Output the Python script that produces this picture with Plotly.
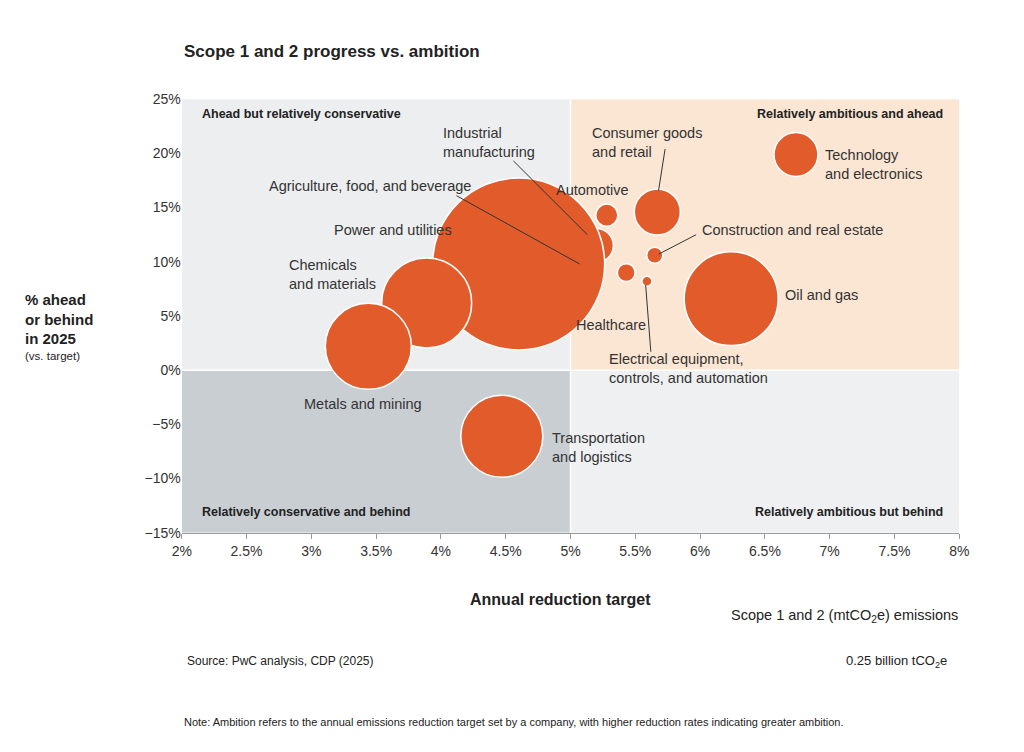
import plotly.graph_objects as go

sectors = ["Technology and electronics", "Consumer goods and retail", "Automotive",
           "Industrial manufacturing", "Agriculture, food, and beverage",
           "Construction and real estate", "Healthcare",
           "Electrical equipment, controls, and automation", "Oil and gas",
           "Power and utilities", "Chemicals and materials", "Metals and mining",
           "Transportation and logistics"]
target = [6.74, 5.67, 5.28, 5.20, 5.11, 5.65, 5.43, 5.59, 6.24, 4.60, 3.89, 3.44, 4.47]
ahead = [19.9, 14.6, 14.3, 11.5, 9.6, 10.6, 9.0, 8.2, 6.6, 9.8, 6.2, 2.2, -6.1]
emissions = [134, 147, 34, 80, 80, 18, 22, 7, 613, 2054, 562, 514, 467]  # mtCO2e

# label positions (x, y, text)
labels = [
    (6.95, 19.0, "Technology<br>and electronics"),
    (5.15, 21.0, "Consumer goods<br>and retail"),
    (4.87, 16.6, "Automotive"),
    (4.00, 21.0, "Industrial<br>manufacturing"),
    (2.66, 17.0, "Agriculture, food, and beverage"),
    (6.00, 12.9, "Construction and real estate"),
    (5.03, 4.2, "Healthcare"),
    (5.28, 0.2, "Electrical equipment,<br>controls, and automation"),
    (6.64, 6.9, "Oil and gas"),
    (3.16, 12.9, "Power and utilities"),
    (2.81, 8.85, "Chemicals<br>and materials"),
    (2.93, -3.1, "Metals and mining"),
    (4.84, -7.1, "Transportation<br>and logistics"),
]
leaders = [
    (4.56, 19.3, 5.13, 12.5),
    (4.12, 16.1, 5.07, 9.8),
    (5.73, 20.4, 5.68, 16.6),
    (5.97, 12.5, 5.68, 10.7),
    (5.62, 1.7, 5.58, 7.85),
]
legend_value = 250
legend_pos = (6.83, -26.9)  # in data units, below the plot

ORANGE = "#e15b2b"
FONT = "Liberation Sans"
sizeref = 2 * max(emissions) / (172 ** 2)
DX, DY = -15, -12  # page offset compensation

fig = go.Figure()
fig.add_trace(go.Scatter(
    x=target, y=ahead, mode="markers", text=sectors,
    marker=dict(size=emissions, sizemode="area", sizeref=sizeref, color=ORANGE,
                opacity=1, line=dict(color="white", width=1.5)),
    showlegend=False, hoverinfo="text"))
fig.add_trace(go.Scatter(
    x=[legend_pos[0]], y=[legend_pos[1]], mode="markers", cliponaxis=False,
    marker=dict(size=[legend_value], sizemode="area", sizeref=sizeref, color=ORANGE,
                opacity=1, line=dict(color="white", width=1.5)),
    showlegend=False, hoverinfo="skip"))

quads = [(2, 5, 0, 25, "#eceef0"), (5, 8, 0, 25, "#fbe6d3"),
         (2, 5, -15, 0, "#c9ced3"), (5, 8, -15, 0, "#eef0f2")]
for x0, x1, y0, y1, c in quads:
    fig.add_shape(type="rect", x0=x0, x1=x1, y0=y0, y1=y1, fillcolor=c,
                  line=dict(width=0), layer="below")
fig.add_shape(type="line", x0=2, x1=8, y0=0, y1=0, line=dict(color="white", width=1.5), layer="below")
fig.add_shape(type="line", x0=5, x1=5, y0=-15, y1=25, line=dict(color="white", width=1.5), layer="below")

for x0, y0, x1, y1 in leaders:
    fig.add_shape(type="line", x0=x0, y0=y0, x1=x1, y1=y1, line=dict(color="#333", width=1))

for x, y, t in labels:
    fig.add_annotation(x=x, y=y, text=t, showarrow=False, xanchor="left", align="left",
                       font=dict(size=14.5, color="#333"))

def ptxt(px, py, text, size=13, bold=False, xanchor="left", color="#222", align="left"):
    if bold:
        text = "<b>" + text + "</b>"
    fig.add_annotation(x=(px + DX) / 1024, y=1 - (py + DY) / 752, xref="paper", yref="paper",
                       text=text, showarrow=False, xanchor=xanchor, yanchor="middle",
                       align=align, font=dict(size=size, color=color, family=FONT))

ptxt(201, 112, "Ahead but relatively conservative", 12.5, True)
ptxt(960, 112, "Relatively ambitious and ahead", 12.5, True, "right")
ptxt(201, 519, "Relatively conservative and behind", 12.5, True)
ptxt(960, 519, "Relatively ambitious but behind", 12.5, True, "right")
ptxt(182, 48, "Scope 1 and 2 progress vs. ambition", 17, True)
ptxt(20, 322, "% ahead<br>or behind<br>in 2025", 15, True)
ptxt(20, 359, "(vs. target)", 11.5)
ptxt(568, 608, "Annual reduction target", 16, True, "center")
ptxt(976, 625, "Scope 1 and 2 (mtCO<sub>2</sub>e) emissions", 14.5, False, "right")
ptxt(857, 672, "0.25 billion tCO<sub>2</sub>e", 13)
ptxt(185, 671, "Source: PwC analysis, CDP (2025)", 12)
ptxt(182, 733, "Note: Ambition refers to the annual emissions reduction target set by a company, "
     "with higher reduction rates indicating greater ambition.", 11)

fig.update_layout(
    width=1024, height=752, margin=dict(l=0, r=0, t=0, b=0),
    paper_bgcolor="white", plot_bgcolor="white",
    font=dict(family=FONT, color="#333", size=14),
    xaxis=dict(domain=[(182 + DX) / 1024, (975 + DX) / 1024], range=[2, 8],
               tickvals=[2 + 0.5 * i for i in range(13)],
               ticktext=[("%g%%" % (2 + 0.5 * i)) for i in range(13)],
               showgrid=False, zeroline=False, showline=True, linecolor="#999",
               ticks="outside", ticklen=5, tickcolor="#999", tickfont=dict(size=14)),
    yaxis=dict(domain=[1 - (540 + DY) / 752, 1 - (97 + DY) / 752], range=[-15, 25], dtick=5,
               ticksuffix="%", showgrid=False, zeroline=False, showline=False,
               ticks="", tickfont=dict(size=14)),
)

fig.write_html("out.html")
